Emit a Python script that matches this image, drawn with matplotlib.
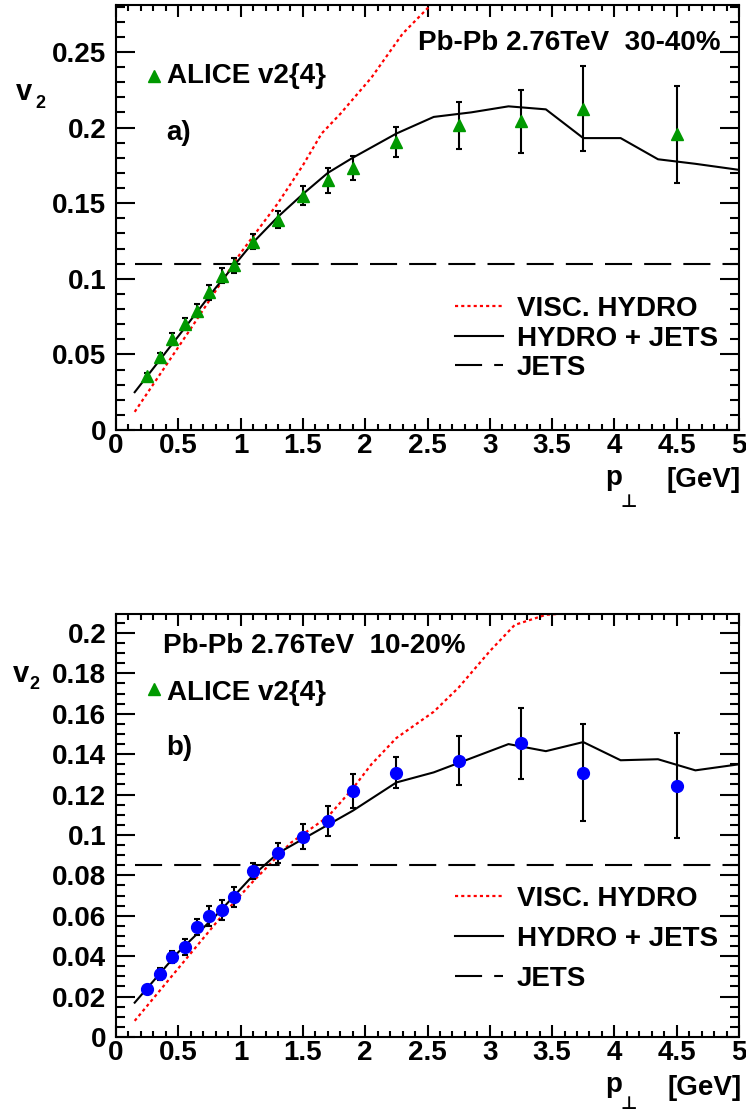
import matplotlib
matplotlib.use("Agg")
import matplotlib.pyplot as plt
from matplotlib.lines import Line2D
from matplotlib.ticker import MultipleLocator, FormatStrFormatter

plt.rcParams['font.family'] = ['Liberation Sans', 'DejaVu Sans']
plt.rcParams['font.weight'] = 'bold'

W, H = 746, 1112
GREEN = '#009900'
BLUE = '#0000ff'
RED = '#ff0000'
FS = 20

# ---- panel a) 30-40% ----
a_pt = [0.25, 0.35, 0.45, 0.55, 0.65, 0.75, 0.85, 0.95, 1.1, 1.3, 1.5, 1.7, 1.9, 2.25, 2.75, 3.25, 3.75, 4.5]
a_v2 = [0.036, 0.048, 0.060, 0.070, 0.079, 0.091, 0.102, 0.109, 0.1245, 0.139, 0.155, 0.165, 0.173,
        0.1905, 0.2015, 0.204, 0.2125, 0.1955]
a_err = [0.002, 0.003, 0.004, 0.004, 0.004, 0.005, 0.005, 0.005, 0.005, 0.0055, 0.0065, 0.0085, 0.008,
         0.010, 0.0155, 0.021, 0.028, 0.032]

a_hj_pt = [0.15, 0.5, 0.8, 1.1, 1.3, 1.5, 1.7, 1.9, 2.25, 2.55, 2.85, 3.15, 3.45, 3.75, 4.05, 4.35, 4.65, 5.0]
a_hj_v2 = [0.025, 0.062, 0.094, 0.124, 0.141, 0.156, 0.170, 0.180, 0.196, 0.207, 0.210, 0.214, 0.212,
           0.193, 0.193, 0.179, 0.176, 0.172]

a_visc_pt = [0.15, 0.6, 1.0, 1.3, 1.5, 1.65, 1.8, 2.05, 2.3, 2.55]
a_visc_v2 = [0.012, 0.067, 0.117, 0.150, 0.175, 0.196, 0.209, 0.233, 0.262, 0.283]

a_jets = 0.110

# ---- panel b) 10-20% ----
b_pt = a_pt
b_v2 = [0.0236, 0.031, 0.0398, 0.0444, 0.0546, 0.0599, 0.0627, 0.0695, 0.0822, 0.0909, 0.0992, 0.1069,
        0.1218, 0.1309, 0.1368, 0.1454, 0.1309, 0.1243]
b_err = [0.002, 0.003, 0.003, 0.004, 0.004, 0.005, 0.005, 0.005, 0.004, 0.005, 0.006, 0.0073, 0.0085,
         0.0075, 0.012, 0.0176, 0.024, 0.026]

b_hj_pt = [0.15, 0.5, 0.8, 1.1, 1.3, 1.5, 1.7, 1.9, 2.25, 2.55, 2.85, 3.15, 3.45, 3.75, 4.05, 4.35, 4.65, 5.0]
b_hj_v2 = [0.017, 0.042, 0.060, 0.080, 0.091, 0.098, 0.105, 0.112, 0.126, 0.131, 0.138, 0.145, 0.1415,
           0.146, 0.137, 0.1375, 0.132, 0.135]

b_visc_pt = [0.15, 0.85, 1.1, 1.4, 1.7, 1.9, 2.05, 2.25, 2.55, 2.75, 3.0, 3.2, 3.45, 3.8]
b_visc_v2 = [0.008, 0.060, 0.077, 0.096, 0.109, 0.123, 0.135, 0.148, 0.161, 0.173, 0.191, 0.204, 0.209, 0.2105]

b_jets = 0.085

fig = plt.figure(figsize=(W / 100, H / 100), dpi=100)


def fx(x):
    return x / W


def fy(y):
    return 1 - y / H


def txt(x, y, s, size=FS, **kw):
    fig.text(fx(x), fy(y), s, fontsize=size, fontweight='bold', va='baseline', **kw)


def panel(rect, pt, v2, err, mcolor, marker, ms, hj_pt, hj_v2, visc_pt, visc_v2, jets, ymax, ymaj, ymin,
          leg_top, leg_space):
    ax = fig.add_axes(rect)
    ax.plot(visc_pt, visc_v2, color=RED, lw=1.6, ls=(0, (1.4, 1.4)), zorder=2)
    ax.plot(hj_pt, hj_v2, color='black', lw=1.5, zorder=2)
    ax.plot([0.15, 5.0], [jets, jets], color='black', lw=1.5, ls=(0, (13, 5.8)), zorder=2)
    ax.errorbar(pt, v2, yerr=err, fmt=marker, color=mcolor, ms=ms, mec=mcolor,
                ecolor='black', elinewidth=1.5, capsize=2.2, capthick=1.5, zorder=3)

    ax.set_xlim(0, 5)
    ax.set_ylim(0, ymax)
    ax.xaxis.set_major_locator(MultipleLocator(0.5))
    ax.xaxis.set_minor_locator(MultipleLocator(0.1))
    ax.yaxis.set_major_locator(MultipleLocator(ymaj))
    ax.yaxis.set_minor_locator(MultipleLocator(ymin))
    ax.xaxis.set_major_formatter(FormatStrFormatter('%g'))
    ax.yaxis.set_major_formatter(FormatStrFormatter('%g'))
    ax.tick_params(which='both', direction='in', top=True, right=True, width=1.5, labelsize=FS)
    ax.tick_params(axis='x', which='major', length=8.8, pad=2)
    ax.tick_params(axis='x', which='minor', length=4.4)
    ax.tick_params(axis='y', which='major', length=13.5, pad=7)
    ax.tick_params(axis='y', which='minor', length=6.5)
    for sp in ax.spines.values():
        sp.set_linewidth(1.5)
    for lab in ax.get_xticklabels() + ax.get_yticklabels():
        lab.set_fontweight('bold')

    handles = [
        Line2D([], [], color=RED, lw=1.6, ls=(0, (1.4, 1.4))),
        Line2D([], [], color='black', lw=1.5),
        Line2D([], [], color='black', lw=1.5, ls=(0, (13, 5.8))),
    ]
    ax.legend(handles, ['VISC. HYDRO', 'HYDRO + JETS', 'JETS'], loc='upper left',
              bbox_to_anchor=(fx(454.7), fy(leg_top)), bbox_transform=fig.transFigure,
              frameon=False, handlelength=1.74, handletextpad=0.5,
              borderpad=0, borderaxespad=0, labelspacing=leg_space,
              prop={'weight': 'bold', 'size': FS})
    return ax


ax_a = panel([fx(116), fy(430), fx(739) - fx(116), (430 - 5) / H], a_pt, a_v2, a_err, GREEN, '^', 8,
             a_hj_pt, a_hj_v2, a_visc_pt, a_visc_v2, a_jets, 0.281, 0.05, 0.01, 296, 0.13)
ax_b = panel([fx(116), fy(1037), fx(739) - fx(116), (1037 - 614) / H], b_pt, b_v2, b_err, BLUE, 'o', 8.5,
             b_hj_pt, b_hj_v2, b_visc_pt, b_visc_v2, b_jets, 0.2094, 0.02, 0.005, 886, 0.5)

# panel a texts
txt(721, 50, 'Pb-Pb 2.76TeV  30-40%', ha='right')
fig.lines.append(Line2D([fx(154)], [fy(76)], marker='^', color=GREEN, ms=8, ls='none',
                        transform=fig.transFigure))
txt(166.7, 83.3, 'ALICE v2{4}')
txt(166.7, 140, 'a)')
txt(16, 100, 'v', size=21)
txt(35, 108, '2', size=13)
txt(605, 485, 'p', size=20)
txt(620, 507, '\u22a5', size=13)
txt(741, 487, '[GeV]', ha='right')

# panel b texts
txt(163.3, 653.3, 'Pb-Pb 2.76TeV  10-20%')
fig.lines.append(Line2D([fx(154)], [fy(689.3)], marker='^', color=GREEN, ms=8, ls='none',
                        transform=fig.transFigure))
txt(166.7, 700, 'ALICE v2{4}')
txt(166.7, 755, 'b)')
txt(13, 682, 'v', size=21)
txt(29, 689, '2', size=13)
txt(605, 1092, 'p', size=20)
txt(620, 1109, '\u22a5', size=13)
txt(742, 1095, '[GeV]', ha='right')

fig.savefig('out.png', dpi=100)
